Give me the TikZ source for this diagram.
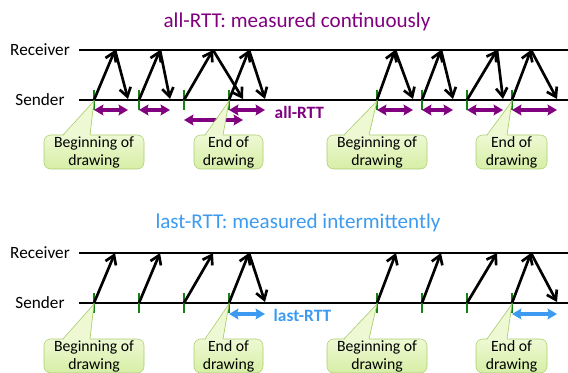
\documentclass[tikz,border=0pt]{standalone}
\usepackage{fontspec}
\setmainfont{Carlito}
\usetikzlibrary{arrows.meta,calc}
\definecolor{allrtt}{RGB}{128,0,128}
\definecolor{lastrtt}{RGB}{60,155,240}
\definecolor{mark}{RGB}{20,130,20}
\definecolor{notetop}{RGB}{238,249,212}
\definecolor{notebot}{RGB}{214,238,165}
\definecolor{noteline}{RGB}{170,205,110}
\tikzset{Timeline/.style = {% styles of the two sequence panels
      axis/.style = {line width=2pt},
       msg/.style = {line width=2pt, -{Straight Barb[length=6.5pt,width=8.5pt]}},
    tickmk/.style = {draw=mark, line width=1.5pt},
      span/.style = {line width=2.8pt, {Stealth[length=7pt,width=8pt,inset=1pt]}-{Stealth[length=7pt,width=8pt,inset=1pt]}},
     party/.style = {font=\fontsize{12.9}{15}\selectfont},
     title/.style = {font=\fontsize{15.8}{19}\selectfont},
     rttlb/.style = {font=\bfseries\fontsize{13}{15}\selectfont, anchor=west},
      note/.style = {draw=noteline, top color=notetop, bottom color=notebot,
                     rounded corners=5pt, minimum height=25.5pt, align=center,
                     inner sep=0pt, font=\fontsize{11.8}{13.5}\selectfont},
   pointer/.style = {fill=notetop},
    pedge/.style = {draw=noteline, line width=0.5pt}}
        }

\begin{document}
\begin{tikzpicture}[Timeline, x=0.75pt, y=-0.75pt]
\useasboundingbox (0,0) rectangle (568,373);

% titles
\node (t1) [title, text=allrtt]  at (297,22)  {all-RTT: measured continuously};
\node (t2) [title, text=lastrtt] at (298,223) {last-RTT: measured intermittently};

% parties and time lines
\foreach \p/\y in {a/0, b/203}{
  \node (rcv\p) [party] at (40,50+\y)  {Receiver};
  \node (snd\p) [party] at (40,100+\y) {Sender};
  \coordinate (rl\p) at (79,50+\y);   \coordinate (rr\p) at (568,50+\y);
  \coordinate (sl\p) at (79,100+\y);  \coordinate (sr\p) at (568,100+\y);
  \draw [axis] (rl\p) -- (rr\p);
  \draw [axis] (sl\p) -- (sr\p);
}

% send, reply and measured interval, top panel
\foreach \s/\r/\e/\d [count=\i] in {94/115/128/0, 139/160/170/0, 184/213/243/10, 229/249/265/0,
                                    377/395/413/0, 422/441/453/0, 467/497/503/0, 512/531/557/0}{
  \draw [tickmk] (\s,90) -- (\s,110);
  \coordinate (sa\i) at (\s,100);
  \coordinate (ra\i) at (\r,50);
  \coordinate (ea\i) at (\e,99);
  \draw [msg] (sa\i) -- (ra\i);
  \draw [msg] (ra\i) -- (ea\i);
  \coordinate (pa\i) at (\s,110+\d);
  \coordinate (qa\i) at (\e,110+\d);
  \draw [span, allrtt] (pa\i) -- (qa\i);
}
\node (lba) [rttlb, text=allrtt] at (270,112) {all-RTT};

% send only, except the last of each run, bottom panel
\foreach \s/\r/\e/\w [count=\i] in {94/115/128/0, 139/160/170/0, 184/213/243/0, 229/249/265/1,
                                    377/396/413/0, 422/441/453/0, 467/497/503/0, 512/531/557/1}{
  \draw [tickmk] (\s,293) -- (\s,313);
  \coordinate (sb\i) at (\s,303);
  \coordinate (rb\i) at (\r,253);
  \coordinate (eb\i) at (\e,302);
  \draw [msg] (sb\i) -- (rb\i);
  \ifnum\w=1
    \draw [msg] (rb\i) -- (eb\i);
    \coordinate (pb\i) at (\s,314);
    \coordinate (qb\i) at (\e,314);
    \draw [span, lastrtt] (pb\i) -- (qb\i);
  \fi
}
\node (lbb) [rttlb, text=lastrtt] at (269,315) {last-RTT};

% callouts
\foreach \x/\w/\l/\r/\k/\txt in {94/100/63/90/1/{Beginning of\\drawing}, 228.5/69/205/223/4/{End of\\drawing},
                                 377/100/344/369/5/{Beginning of\\drawing}, 511.5/71/487/507/8/{End of\\drawing}}{
  \foreach \p/\y in {a/152, b/356}{
    \node (n\p\k) [note, minimum width=\w*0.75pt] at (\x,\y) {\txt};
    \coordinate (nl\p\k) at (\l,\y-17);
    \coordinate (nr\p\k) at (\r,\y-17);
    \coordinate (nt\p\k) at ($(s\p\k)+(0,1)$);
    \fill [pointer] ([yshift=-1pt]nl\p\k) -- (nt\p\k) -- ([yshift=-1pt]nr\p\k) -- cycle;
    \draw [pedge] (nl\p\k) -- (nt\p\k) -- (nr\p\k);
  }
}
\end{tikzpicture}
\end{document}
